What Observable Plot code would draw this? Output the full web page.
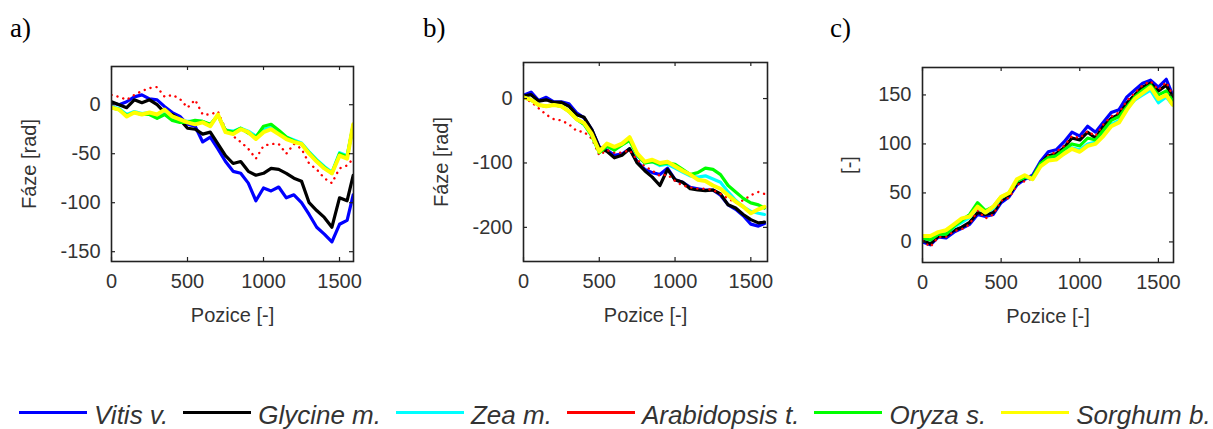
<!DOCTYPE html>
<html>
<head>
<meta charset="utf-8">
<script src="https://cdn.jsdelivr.net/npm/d3@7"></script>
<script src="https://cdn.jsdelivr.net/npm/@observablehq/plot@0.6"></script>
<style>
  html, body { margin: 0; padding: 0; background: #fff; }
  #wrap { position: relative; width: 1213px; height: 429px; background: #fff; overflow: hidden; }
  .panel { position: absolute; top: 0; }
  .plab { position: absolute; top: 15px; font-family: "Liberation Serif", "Times New Roman", serif; font-size: 27px; line-height: 1; }
  #legend { position: absolute; left: 19px; top: 401px; display: flex; align-items: flex-start; height: 29px; }
  #legend .sw { display: inline-block; width: 68px; height: 3px; margin-top: 10px; margin-right: 7px; }
  #legend .tx { font-family: "Liberation Sans", Arial, sans-serif; font-style: italic; font-size: 26px; line-height: 29px; margin-right: 15px; color: #333; white-space: nowrap; }
</style>
</head>
<body>
<div id="wrap"></div>
<script>
// ---------- data ----------
const species = ["Vitis v.", "Glycine m.", "Zea m.", "Arabidopsis t.", "Oryza s.", "Sorghum b."];
const colors  = ["#0000ff", "#000000", "#00ffff", "#ff0000", "#00ff00", "#ffff00"];
const pos = [0, 50, 100, 150, 200, 250, 300, 350, 400, 450, 500, 550, 600, 650, 700, 750, 800,
             850, 900, 950, 1000, 1050, 1100, 1150, 1200, 1250, 1300, 1350, 1400, 1450, 1500, 1550, 1590];

// panel a) Fáze [rad]
const aVitis   = [2, 0, 3, 8, 10, 6, 5, -2, -8, -12, -20, -22, -38, -33, -45, -58, -68, -70, -80, -98, -85, -88, -84, -95, -92, -100, -112, -125, -132, -140, -122, -118, -92];
const aGlycine = [3, 0, -3, 5, 2, 5, 0, -8, -10, -15, -24, -25, -30, -28, -40, -52, -60, -58, -68, -72, -70, -65, -66, -70, -75, -78, -100, -108, -115, -125, -95, -98, -72];
const aZea     = [-2, -4, -10, -7, -9, -8, -12, -8, -14, -16, -17, -17, -17, -21, -11, -26, -27, -24, -27, -32, -25, -23, -28, -33, -36, -39, -48, -56, -63, -69, -49, -52, -21];
const aArab    = [10, 8, 5, 10, 14, 17, 18, 8, 10, 6, -3, 5, -10, -10, -7, -25, -32, -38, -45, -55, -42, -40, -40, -50, -40, -45, -60, -66, -75, -80, -65, -62, -55];
const aOryza   = [-3, -5, -11, -8, -10, -10, -14, -10, -16, -18, -18, -16, -17, -20, -11, -26, -28, -24, -29, -33, -22, -20, -26, -33, -37, -40, -49, -57, -64, -70, -50, -53, -21];
const aSorghum = [-3, -5, -12, -8, -10, -8, -10, -5, -12, -15, -18, -20, -18, -22, -10, -28, -30, -25, -28, -35, -28, -25, -30, -35, -38, -40, -50, -58, -65, -70, -52, -55, -20];

// panel b) Fáze [rad]
const bVitis   = [5, 10, -3, 2, -5, -5, -8, -22, -30, -48, -75, -80, -88, -86, -78, -98, -110, -115, -118, -108, -126, -130, -138, -140, -142, -142, -150, -165, -172, -182, -195, -198, -194];
const bGlycine = [4, 6, -4, -2, -6, -6, -12, -25, -29, -48, -76, -82, -92, -88, -78, -100, -112, -122, -135, -110, -126, -130, -140, -142, -143, -142, -148, -165, -170, -180, -188, -193, -192];
const bZea     = [2, -2, -10, -12, -10, -12, -20, -32, -40, -56, -82, -72, -78, -72, -64, -88, -100, -98, -104, -102, -108, -114, -120, -122, -120, -125, -130, -145, -158, -168, -175, -178, -180];
const bArab    = [0, -5, -15, -25, -32, -34, -40, -50, -52, -62, -88, -80, -84, -84, -80, -95, -105, -112, -120, -118, -128, -135, -138, -140, -140, -142, -148, -155, -162, -158, -150, -145, -148];
const bOryza   = [2, -2, -10, -12, -10, -12, -20, -32, -40, -58, -84, -74, -80, -72, -65, -88, -100, -98, -102, -100, -102, -110, -118, -115, -108, -110, -118, -135, -145, -155, -162, -165, -170];
const bSorghum = [2, -2, -10, -12, -10, -12, -20, -32, -38, -55, -82, -70, -75, -70, -60, -85, -98, -95, -100, -98, -105, -112, -118, -126, -128, -135, -140, -150, -160, -168, -178, -172, -168];

// panel c) [-]
const cVitis   = [0, -3, 5, 4, 10, 14, 18, 28, 26, 28, 40, 46, 58, 64, 68, 82, 92, 94, 102, 112, 108, 118, 112, 122, 132, 135, 148, 155, 162, 165, 158, 166, 150];
const cGlycine = [2, -2, 6, 6, 12, 15, 20, 30, 28, 30, 42, 48, 60, 65, 66, 80, 88, 90, 96, 106, 104, 112, 106, 118, 126, 130, 142, 150, 158, 162, 154, 160, 148];
const cZea     = [4, 2, 8, 8, 15, 20, 25, 35, 30, 34, 45, 50, 62, 66, 64, 78, 84, 86, 90, 96, 94, 100, 102, 110, 120, 124, 136, 145, 150, 155, 142, 148, 140];
const cArab    = [1, -5, 5, 5, 11, 13, 18, 32, 24, 28, 42, 45, 58, 62, 65, 80, 88, 92, 98, 108, 106, 113, 108, 120, 128, 132, 144, 152, 160, 164, 155, 163, 150];
const cOryza   = [4, 2, 8, 8, 16, 22, 28, 40, 32, 36, 46, 50, 62, 66, 66, 80, 86, 88, 94, 100, 98, 106, 104, 114, 124, 128, 138, 148, 155, 160, 150, 154, 144];
const cSorghum = [6, 6, 10, 12, 18, 24, 26, 36, 30, 36, 46, 50, 64, 68, 64, 77, 83, 84, 90, 95, 92, 98, 100, 108, 118, 122, 135, 146, 152, 158, 146, 150, 140];

const xTicks  = [0, 500, 1000, 1500];
const aYTicks = [0, -50, -100, -150];
const bYTicks = [0, -100, -200];
const cYTicks = [0, 50, 100, 150];
const panelNames = ["a)", "b)", "c)"];
const xLabel = "Pozice [-]";
const yLabels = ["Fáze [rad]", "Fáze [rad]", "[-]"];

// ---------- layout ----------
const panels = [
  {series: [aVitis, aGlycine, aZea, aArab, aOryza, aSorghum], yTicks: aYTicks, xDom: [0, 1592], yDom: [-160, 39],
   left: 0, m: {l: 111, r: 47, t: 66, b: 69}, labLeft: 10, yOff: 90},
  {series: [bVitis, bGlycine, bZea, bArab, bOryza, bSorghum], yTicks: bYTicks, xDom: [0, 1610], yDom: [-253, 56],
   left: 410, m: {l: 113, r: 43, t: 62, b: 69}, labLeft: 423, yOff: 90},
  {series: [cVitis, cGlycine, cZea, cArab, cOryza, cSorghum], yTicks: cYTicks, xDom: [0, 1596], yDom: [-21, 178],
   left: 813, m: {l: 109, r: 40, t: 67, b: 68}, labLeft: 830, yOff: 81}
];

const W = 400, H = 330, TK = 4;
const wrap = document.getElementById("wrap");
const fmt = d => String(d);

panels.forEach((p, pi) => {
  const iw = W - p.m.l - p.m.r, ih = H - p.m.t - p.m.b;
  const lineMarks = [];
  [0, 1, 2, 3, 4, 5].forEach(si => {
    const rows = pos.map((x, i) => ({x, y: p.series[si][i], s: species[si]}));
    if (si === 3) {
      lineMarks.push(Plot.line(rows, {x: "x", y: "y", stroke: colors[si], strokeWidth: 2.4,
        strokeDasharray: "0.1 6", strokeLinecap: "round", clip: true}));
    } else {
      lineMarks.push(Plot.line(rows, {x: "x", y: "y", stroke: colors[si],
        strokeWidth: si === 5 ? 4 : 3.2, clip: true}));
    }
  });
  const chart = Plot.plot({
    width: W, height: H,
    marginLeft: p.m.l, marginRight: p.m.r, marginTop: p.m.t, marginBottom: p.m.b,
    x: {domain: p.xDom},
    y: {domain: p.yDom},
    style: {fontFamily: "'Liberation Sans', Arial, sans-serif", fontSize: "20px", background: "transparent", color: "#333"},
    marks: [
      ...lineMarks,
      Plot.ruleX(xTicks, {x: d => d, insetTop: ih - TK, stroke: "#222", strokeWidth: 1.2}),
      Plot.ruleX(xTicks, {x: d => d, insetBottom: ih - TK, stroke: "#222", strokeWidth: 1.2}),
      Plot.ruleY(p.yTicks, {y: d => d, insetRight: iw - TK, stroke: "#222", strokeWidth: 1.2}),
      Plot.ruleY(p.yTicks, {y: d => d, insetLeft: iw - TK, stroke: "#222", strokeWidth: 1.2}),
      Plot.frame({stroke: "#222", strokeWidth: 1.6}),
      Plot.axisX({ticks: xTicks, tickSize: 0, tickPadding: 12, tickFormat: fmt, fontSize: 20,
        label: xLabel, labelAnchor: "center", labelOffset: 60, labelArrow: "none"}),
      Plot.axisY({ticks: p.yTicks, tickSize: 0, tickPadding: 11, tickFormat: fmt, fontSize: 20,
        label: yLabels[pi], labelAnchor: "center", labelOffset: p.yOff, labelArrow: "none"})
    ]
  });
  chart.classList.add("panel");
  chart.style.left = p.left + "px";
  wrap.appendChild(chart);

  const lab = document.createElement("div");
  lab.className = "plab";
  lab.style.left = p.labLeft + "px";
  lab.textContent = panelNames[pi];
  wrap.appendChild(lab);
});

// legend
const legend = document.createElement("div");
legend.id = "legend";
species.forEach((s, i) => {
  const sw = document.createElement("span");
  sw.className = "sw";
  sw.style.background = colors[i];
  const tx = document.createElement("span");
  tx.className = "tx";
  tx.textContent = s;
  legend.appendChild(sw);
  legend.appendChild(tx);
});
wrap.appendChild(legend);
</script>
</body>
</html>
